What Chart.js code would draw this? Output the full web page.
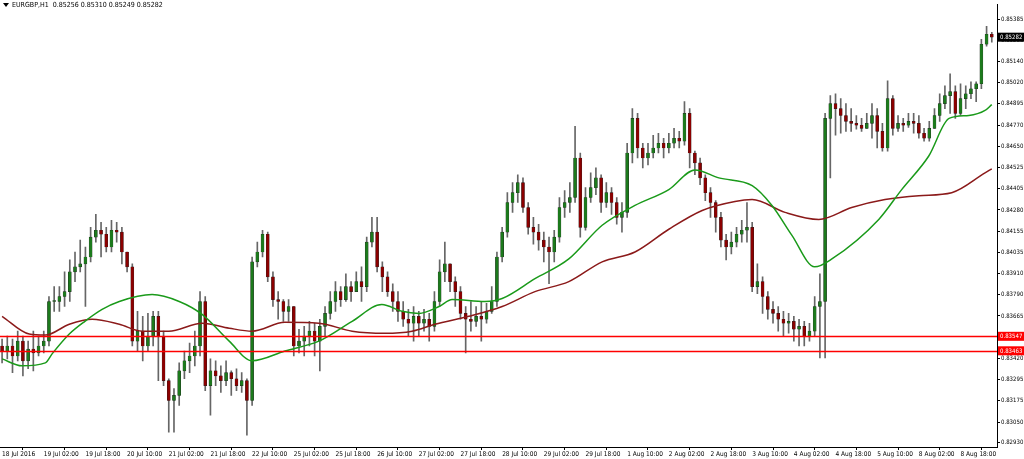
<!DOCTYPE html>
<html><head><meta charset="utf-8">
<script src="https://cdn.jsdelivr.net/npm/chart.js@4.4.1/dist/chart.umd.min.js"></script>
<style>html,body{margin:0;padding:0;background:#fff;overflow:hidden}#w{width:1024px;height:459px}</style>
</head><body><div id="w"><canvas id="c"></canvas></div>
<script>
const tickLabels = {0:"18 Jul 2016",8:"19 Jul 02:00",16:"19 Jul 18:00",24:"20 Jul 10:00",32:"21 Jul 02:00",40:"21 Jul 18:00",48:"22 Jul 10:00",56:"25 Jul 02:00",64:"25 Jul 18:00",72:"26 Jul 10:00",80:"27 Jul 02:00",88:"27 Jul 18:00",96:"28 Jul 10:00",104:"29 Jul 02:00",112:"29 Jul 18:00",120:"1 Aug 10:00",128:"2 Aug 02:00",136:"2 Aug 18:00",144:"3 Aug 10:00",152:"4 Aug 02:00",160:"4 Aug 18:00",168:"5 Aug 10:00",176:"8 Aug 02:00",184:"8 Aug 18:00"};
const priceTicks = [0.85385,0.85265,0.85140,0.85020,0.84895,0.84770,0.84650,0.84525,0.84405,0.84280,0.84155,0.84035,0.83910,0.83790,0.83665,0.83545,0.83420,0.83295,0.83175,0.83050,0.82930];
const firstOpen = 0.83491;
const closes = [0.83462,0.83491,0.83433,0.83519,0.83405,0.83473,0.83451,0.83491,0.83519,0.83749,0.83749,0.83778,0.83806,0.83921,0.83950,0.83967,
0.84007,0.84122,0.84162,0.84139,0.84065,0.84162,0.84151,0.84036,0.83950,0.83519,0.83577,0.83491,0.83548,0.83663,0.83548,0.83290,
0.83175,0.83204,0.83347,0.83405,0.83433,0.83491,0.83749,0.83261,0.83347,0.83318,0.83290,0.83336,0.83301,0.83261,0.83290,0.83175,
0.83979,0.84036,0.84139,0.83892,0.83760,0.83749,0.83692,0.83720,0.83491,0.83519,0.83548,0.83577,0.83519,0.83605,0.83680,0.83749,
0.83806,0.83760,0.83835,0.83806,0.83864,0.83835,0.84093,0.84151,0.83950,0.83892,0.83806,0.83749,0.83692,0.83646,0.83623,0.83663,
0.83623,0.83646,0.83605,0.83749,0.83921,0.83967,0.83864,0.83806,0.83680,0.83646,0.83634,0.83663,0.83646,0.83692,0.83749,0.84007,
0.84151,0.84323,0.84380,0.84438,0.84294,0.84179,0.84151,0.84105,0.84065,0.84036,0.84122,0.84294,0.84323,0.84352,0.84581,0.84179,
0.84352,0.84409,0.84466,0.84323,0.84380,0.84323,0.84237,0.84266,0.84610,0.84811,0.84639,0.84581,0.84610,0.84639,0.84667,0.84639,
0.84667,0.84696,0.84679,0.84840,0.84610,0.84553,0.84466,0.84380,0.84323,0.84237,0.84105,0.84065,0.84093,0.84139,0.84162,0.84179,
0.83835,0.83864,0.83778,0.83703,0.83680,0.83646,0.83623,0.83634,0.83588,0.83605,0.83548,0.83577,0.83720,0.83749,0.84811,0.84897,
0.84868,0.84828,0.84794,0.84782,0.84771,0.84753,0.84782,0.84828,0.84736,0.84639,0.84926,0.84753,0.84782,0.84771,0.84794,0.84782,
0.84725,0.84696,0.84753,0.84828,0.84897,0.84943,0.84966,0.84840,0.84926,0.84954,0.84983,0.85012,0.85241,0.85299,0.85282];
const highs = [0.83531,0.83548,0.83531,0.83577,0.83548,0.83519,0.83577,0.83548,0.83577,0.83778,0.83835,0.83835,0.83921,0.83990,0.84036,0.84105,
0.84065,0.84179,0.84254,0.84208,0.84179,0.84220,0.84208,0.84179,0.84036,0.83967,0.83692,0.83663,0.83680,0.83692,0.83692,0.83577,
0.83301,0.83244,0.83393,0.83462,0.83508,0.83577,0.83806,0.83778,0.83416,0.83405,0.83376,0.83405,0.83347,0.83359,0.83336,0.83301,
0.84007,0.84093,0.84162,0.84151,0.83921,0.83806,0.83760,0.83760,0.83720,0.83588,0.83605,0.83634,0.83623,0.83646,0.83720,0.83806,
0.83864,0.83835,0.83910,0.83864,0.83921,0.83950,0.84122,0.84237,0.84237,0.83979,0.83921,0.83852,0.83806,0.83749,0.83703,0.83720,
0.83692,0.83703,0.83680,0.83806,0.83990,0.84093,0.83967,0.83892,0.83835,0.83720,0.83749,0.83720,0.83749,0.83738,0.83835,0.84036,
0.84179,0.84380,0.84438,0.84484,0.84466,0.84323,0.84237,0.84197,0.84151,0.84122,0.84162,0.84352,0.84392,0.84438,0.84765,0.84610,
0.84409,0.84495,0.84524,0.84484,0.84438,0.84409,0.84352,0.84323,0.84667,0.84868,0.84840,0.84667,0.84667,0.84713,0.84725,0.84696,
0.84725,0.84753,0.84736,0.84908,0.84868,0.84621,0.84581,0.84484,0.84409,0.84334,0.84266,0.84139,0.84151,0.84179,0.84220,0.84323,
0.84208,0.83967,0.83892,0.83806,0.83749,0.83720,0.83692,0.83680,0.83663,0.83646,0.83634,0.83623,0.83778,0.83910,0.84840,0.84943,
0.84954,0.84926,0.84897,0.84868,0.84828,0.84811,0.84840,0.84897,0.84868,0.84782,0.85029,0.84943,0.84828,0.84811,0.84840,0.84840,
0.84828,0.84753,0.84794,0.84868,0.84954,0.85000,0.85069,0.85000,0.85012,0.85000,0.85023,0.85023,0.85270,0.85345,0.85310];
const lows = [0.83393,0.83416,0.83336,0.83405,0.83318,0.83359,0.83347,0.83433,0.83451,0.83491,0.83692,0.83692,0.83720,0.83749,0.83864,0.83921,
0.83720,0.83979,0.84093,0.84007,0.84036,0.84036,0.84093,0.83967,0.83921,0.83491,0.83462,0.83405,0.83462,0.83491,0.83290,0.83261,
0.82991,0.82991,0.83146,0.83301,0.83336,0.83376,0.83433,0.83232,0.83089,0.83261,0.83221,0.83261,0.83204,0.83232,0.83221,0.82974,
0.83146,0.83950,0.84007,0.83864,0.83720,0.83646,0.83634,0.83634,0.83433,0.83451,0.83433,0.83491,0.83433,0.83347,0.83548,0.83646,
0.83692,0.83720,0.83749,0.83749,0.83806,0.83749,0.83806,0.84065,0.83921,0.83806,0.83778,0.83692,0.83634,0.83605,0.83548,0.83519,
0.83548,0.83577,0.83519,0.83577,0.83720,0.83864,0.83806,0.83720,0.83646,0.83451,0.83577,0.83605,0.83519,0.83623,0.83680,0.83720,
0.83979,0.84122,0.84266,0.84323,0.84266,0.84139,0.84082,0.84047,0.83979,0.83852,0.83979,0.84093,0.84237,0.84266,0.84323,0.84122,
0.84162,0.84323,0.84369,0.84266,0.84294,0.84254,0.84197,0.84151,0.84237,0.84553,0.84581,0.84524,0.84541,0.84581,0.84610,0.84581,
0.84610,0.84639,0.84639,0.84656,0.84524,0.84484,0.84426,0.84334,0.84237,0.84151,0.84065,0.83990,0.84025,0.84065,0.84093,0.84093,
0.83806,0.83795,0.83680,0.83646,0.83623,0.83577,0.83548,0.83565,0.83519,0.83491,0.83491,0.83519,0.83548,0.83422,0.83422,0.84466,
0.84713,0.84725,0.84736,0.84736,0.84748,0.84736,0.84753,0.84696,0.84639,0.84621,0.84621,0.84713,0.84736,0.84736,0.84759,0.84725,
0.84696,0.84679,0.84679,0.84753,0.84794,0.84868,0.84840,0.84811,0.84828,0.84868,0.84926,0.84908,0.84983,0.85230,0.85253];
const maFastIdx = [0,3.8,8.3,9.6,12.9,15.9,19.2,22.5,28.8,34,38.4,43.6,48,54.3,60.8,67.2,72.9,76.8,80,83.9,86.4,92.7,96,102.3,108.8,115.2,121.5,128,133,137.6,144,147.8,151.6,156,159.3,168.3,172.7,177.9,181.8,185.6,188.7,190];
const maFastVal = [0.83416,0.83376,0.83393,0.83445,0.83560,0.83634,0.83703,0.83749,0.83789,0.83749,0.83674,0.83519,0.83405,0.83462,0.83519,0.83634,0.83732,0.83692,0.83680,0.83720,0.83760,0.83749,0.83766,0.83881,0.83996,0.84191,0.84306,0.84398,0.84512,0.84466,0.84421,0.84306,0.84134,0.83950,0.83996,0.84225,0.84398,0.84593,0.84811,0.84828,0.84857,0.84891];
const maSlowIdx = [0,5.2,8.3,12.9,17.3,22.5,26.9,32,38.4,43.6,48,54.3,60.8,67.2,73.5,78.7,83.1,89.6,96,102.3,108.8,115.2,121.5,128,134.4,140.7,144,150.3,156.8,163.1,169.5,176,182.3,188.7,190];
const maSlowVal = [0.83663,0.83560,0.83554,0.83617,0.83646,0.83617,0.83577,0.83577,0.83623,0.83594,0.83577,0.83628,0.83623,0.83577,0.83565,0.83577,0.83617,0.83663,0.83720,0.83806,0.83864,0.83979,0.84036,0.84168,0.84277,0.84329,0.84340,0.84266,0.84225,0.84294,0.84340,0.84363,0.84380,0.84495,0.84518];
const levels = [0.83547, 0.83463];
const header = "EURGBP,H1  0.85256 0.85310 0.85249 0.85282";

const opens = closes.map((c,i)=> i===0 ? firstOpen : closes[i-1]);
const wick = closes.map((c,i)=>({x:i,y:[lows[i],highs[i]]}));
const body = closes.map((c,i)=>({x:i,y:[opens[i],c]}));
const bodyCol = closes.map((c,i)=> c>=opens[i] ? '#1c7a1c' : '#8b0000');
const fast = maFastIdx.map((x,i)=>({x,y:maFastVal[i]}));
const slow = maSlowIdx.map((x,i)=>({x,y:maSlowVal[i]}));
const F = "'DejaVu Sans Condensed','DejaVu Sans', sans-serif";

const overlay = {
  id:'overlay',
  afterDatasetsDraw(ch){
    const ctx=ch.ctx, a=ch.chartArea, ys=ch.scales.y;
    ctx.save();
    levels.forEach(v=>{
      const y=Math.round(ys.getPixelForValue(v))+0.5;
      ctx.strokeStyle='#ff0000'; ctx.lineWidth=1.3;
      ctx.beginPath(); ctx.moveTo(a.left,y); ctx.lineTo(a.right,y); ctx.stroke();
    });
    ctx.restore();
  },
  afterDraw(ch){
    const ctx=ch.ctx, a=ch.chartArea, ys=ch.scales.y;
    ctx.save();
    ctx.font="6px "+F; ctx.textBaseline='middle'; ctx.textAlign='left';
    const box=(v,bg)=>{
      const y=ys.getPixelForValue(v);
      ctx.fillStyle=bg; ctx.fillRect(a.right+1,y-4.5,26,9);
      ctx.fillStyle='#fff'; ctx.fillText(v.toFixed(5),a.right+3,y+0.5);
    };
    levels.forEach(v=>box(v,'#ff0000'));
    box(closes[closes.length-1],'#000');
    ctx.fillStyle='#000';
    ctx.beginPath(); ctx.moveTo(3,3); ctx.lineTo(9,3); ctx.lineTo(6,7); ctx.closePath(); ctx.fill();
    ctx.font="7px "+F; ctx.fillText(header,12,5);
    ctx.restore();
  }
};

new Chart(document.getElementById('c'),{
  data:{datasets:[
    {type:'line',data:fast,borderColor:'#1a9a1a',borderWidth:1.5,pointRadius:0,cubicInterpolationMode:'monotone',order:0},
    {type:'line',data:slow,borderColor:'#8b1a1a',borderWidth:1.5,pointRadius:0,cubicInterpolationMode:'monotone',order:0},
    {type:'bar',data:wick,backgroundColor:'#666',barThickness:1,grouped:false,order:2},
    {type:'bar',data:body,backgroundColor:bodyCol,borderColor:'#222',borderWidth:0.4,borderSkipped:false,barThickness:3,grouped:false,minBarLength:1,order:1}
  ]},
  options:{
    responsive:true,maintainAspectRatio:false,animation:false,
    layout:{padding:0},
    plugins:{legend:{display:false},tooltip:{enabled:false}},
    scales:{
      x:{type:'linear',min:-0.4,max:191,offset:false,
        afterBuildTicks(s){s.ticks=Object.keys(tickLabels).map(k=>({value:+k}));},
        afterFit(s){s.height=12;},
        border:{color:'#000',width:1},
        grid:{drawOnChartArea:false,tickLength:3,color:'#000'},
        ticks:{autoSkip:false,maxRotation:0,align:'start',padding:0,color:'#000',font:{family:F,size:6.5},callback:v=>tickLabels[v]||''}},
      y:{type:'linear',position:'right',min:0.82905,max:0.85471,
        afterBuildTicks(s){s.ticks=priceTicks.map(v=>({value:v}));},
        afterFit(s){s.width=27;},
        border:{color:'#000',width:1},
        grid:{drawOnChartArea:false,tickLength:3,color:'#000'},
        ticks:{padding:1,color:'#000',font:{family:F,size:6},callback:v=>v.toFixed(5)}}
    }
  },
  plugins:[overlay]
});
</script></body></html>
